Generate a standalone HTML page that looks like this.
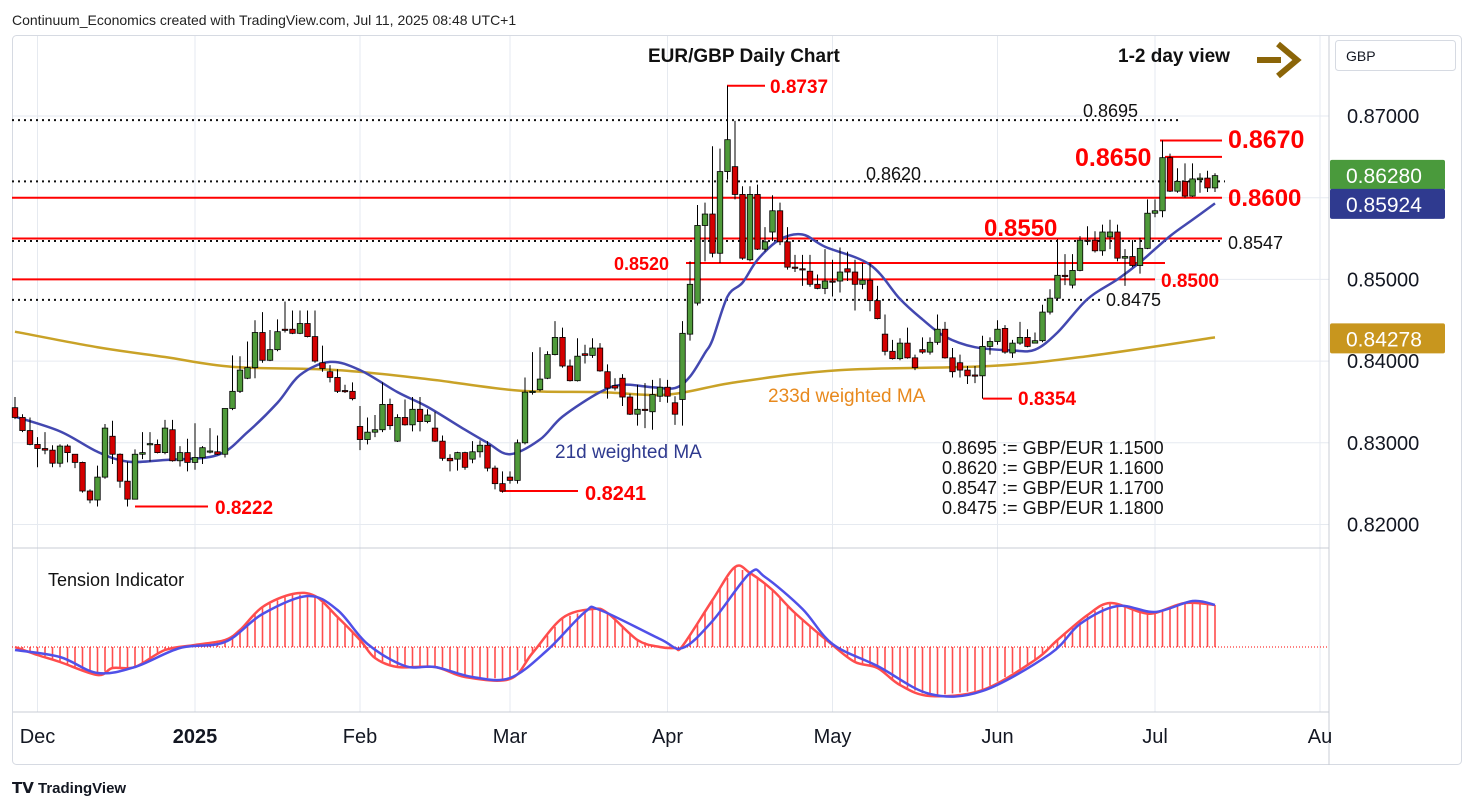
<!DOCTYPE html>
<html><head><meta charset="utf-8"><style>
html,body{margin:0;padding:0;background:#fff;}
svg{display:block;font-family:"Liberation Sans",sans-serif;}
</style></head><body>
<svg id="chart" width="1474" height="809" viewBox="0 0 1474 809" xmlns="http://www.w3.org/2000/svg">
<text x="12" y="25" font-size="14" fill="#222">Continuum_Economics created with TradingView.com, Jul 11, 2025 08:48 UTC+1</text>
<rect x="12.5" y="35.5" width="1449" height="729" rx="4" fill="#fff" stroke="#d6dae2"/>
<g id="grid"></g>
<g id="levels"></g>
<g id="mas"></g>
<g id="candles"></g>
<g id="tension"></g>
<g id="axes"></g>
<g id="annot"></g>
<text x="12" y="793" font-size="15" font-weight="bold" fill="#131722">𝗧𝗩 TradingView</text>
</svg>
<script>
// ---- data (prices x1000) ----
const openK=[834.3,833.1,831.5,829.8,829.3,829.1,827.5,829.6,828.6,827.6,
824.1,823.0,825.8,830.8,828.6,825.3,823.1,828.6,829.8,829.8,
828.8,831.6,827.8,828.8,827.6,828.2,828.9,828.9,828.6,834.2,
836.3,837.9,839.2,843.5,840.1,841.4,843.9,843.9,843.4,844.6,
843.0,839.8,838.7,838.0,836.4,836.3,832.0,830.4,831.3,831.6,
834.7,830.2,833.1,832.2,834.1,832.6,831.8,830.2,828.1,828.0,
828.8,828.0,828.9,829.7,826.9,825.0,825.8,825.4,830.0,836.2,
836.5,837.9,840.8,842.9,839.4,837.6,840.9,840.7,841.6,838.7,
837.0,837.9,835.6,833.5,834.1,833.8,835.7,836.8,834.9,835.3,
843.3,847.1,856.6,858.0,853.2,863.2,863.8,860.4,852.4,860.4,
853.7,855.8,858.4,854.6,851.5,851.3,851.0,849.4,848.9,849.8,
849.8,851.3,850.9,849.4,849.9,847.4,843.3,841.2,840.3,842.2,
840.4,841.4,841.1,842.3,843.9,840.4,839.8,838.9,838.3,838.2,
841.8,842.4,844.0,841.0,842.2,842.9,842.2,842.5,846.0,847.7,
850.5,849.3,851.1,854.8,854.8,853.5,855.2,855.8,852.6,852.8,
851.7,853.8,858.1,858.4,864.9,860.8,862.0,860.2,862.2,862.4,
861.2];
const highK=[835.6,833.5,833.1,830.7,831.3,829.7,829.8,829.8,828.6,827.7,
824.3,827.2,832.3,832.7,828.7,827.7,829.2,831.3,831.3,830.4,
832.8,832.8,829.6,830.5,832.4,829.6,831.8,830.9,834.2,840.7,
840.6,842.4,845.0,846.0,843.8,845.1,847.3,846.2,846.2,846.2,
846.2,841.9,839.5,839.0,837.1,837.4,834.5,833.1,833.4,837.4,
835.4,833.5,835.3,835.6,835.6,834.1,833.8,830.9,828.6,828.9,
828.9,830.2,830.3,830.2,827.2,826.5,826.5,830.4,838.0,841.1,
841.7,841.2,844.9,844.1,840.2,842.8,842.0,842.8,842.2,839.6,
837.9,838.4,836.0,837.1,837.3,837.7,837.9,837.7,835.7,844.9,
852.2,859.1,859.4,866.3,866.0,873.7,869.4,861.4,861.4,861.6,
856.4,860.3,859.4,856.4,853.0,853.0,853.0,850.6,853.7,852.4,
853.9,853.4,852.4,852.0,852.0,849.2,845.7,842.6,842.8,844.1,
840.8,842.9,842.9,845.7,844.8,841.6,840.8,839.4,839.4,843.1,
842.9,845.0,844.4,842.6,844.8,843.9,843.5,846.9,848.8,854.9,
853.1,853.1,855.3,856.5,855.9,856.7,857.3,856.7,853.7,854.8,
855.1,859.8,859.8,867.0,865.4,863.6,864.2,864.2,863.0,863.3,
863.0];
const lowK=[832.9,831.3,829.7,827.0,828.6,827.0,827.0,827.6,826.9,823.9,
822.6,822.2,825.6,827.4,824.5,822.2,823.1,828.0,827.7,828.7,
828.6,827.7,827.1,826.5,826.7,827.4,828.7,828.5,828.2,834.0,
836.1,837.8,837.9,839.8,840.0,841.2,843.5,843.3,843.3,842.9,
839.8,838.7,837.4,836.1,836.1,835.2,829.1,829.8,830.7,831.3,
831.6,830.1,832.1,831.4,831.4,832.4,830.1,827.8,826.5,826.6,
826.7,827.5,828.2,826.5,824.3,823.9,825.0,825.0,829.8,835.9,
836.3,837.8,840.7,839.2,837.5,837.5,839.7,840.4,838.7,835.4,
836.4,834.5,833.4,832.1,831.8,831.6,835.0,834.9,832.2,832.1,
842.5,846.8,852.2,852.7,852.0,862.2,859.8,852.4,852.2,853.6,
853.4,854.7,854.2,851.2,850.9,849.2,849.1,848.8,848.2,847.9,
848.4,849.8,846.2,848.8,846.1,845.1,840.7,840.2,840.1,840.3,
838.9,840.9,840.8,842.0,840.3,838.0,838.0,837.2,837.3,835.4,
840.8,842.0,840.9,840.4,842.0,841.7,842.2,842.3,845.7,847.4,
849.3,848.9,851.0,854.2,853.3,852.9,853.7,852.2,849.2,851.5,
850.7,853.7,857.6,857.6,860.7,860.6,860.0,860.1,860.6,860.7,
860.7];
const closeK=[833.1,831.5,829.8,829.3,829.1,827.5,829.6,828.8,827.6,824.1,
823.0,825.8,831.8,828.6,825.3,823.1,828.6,828.8,829.9,828.8,
831.8,827.8,828.8,827.6,828.2,829.4,829.0,828.6,834.2,836.3,
838.9,839.2,843.5,840.1,841.4,843.6,843.8,843.4,844.6,843.0,
840.0,839.1,838.0,836.3,836.3,835.4,830.4,831.3,831.6,834.7,
832.1,833.1,832.2,834.1,832.6,833.4,830.2,828.1,827.8,828.8,
827.0,828.9,829.7,826.9,825.0,824.1,825.4,830.0,836.2,836.3,
837.8,840.8,842.9,839.4,837.6,840.6,840.7,841.6,838.8,836.7,
836.7,835.6,833.5,834.1,834.0,835.9,836.8,835.7,833.5,843.4,
849.4,856.6,858.0,853.2,863.2,867.1,860.4,852.6,860.4,853.7,
854.6,858.4,854.6,851.5,851.4,851.2,849.4,848.9,849.8,849.7,
850.9,850.9,849.4,849.9,847.4,845.2,841.2,840.3,842.2,840.4,
839.2,841.1,842.3,843.9,840.4,838.7,838.9,838.2,838.2,841.8,
842.4,843.9,841.1,842.2,842.9,841.8,842.5,846.0,847.7,850.5,
850.4,851.1,854.8,854.7,853.5,855.8,855.8,852.6,852.8,851.7,
853.8,858.1,858.4,864.9,860.8,862.0,860.2,862.3,862.4,861.2,
862.7];
const ma21Idx=[0,6,11,15,20,27,31,35,38,42,46,51,55,60,63,66,70,73,78,81,85,88,90,92,93,95,97,99,102,105,108,114,118,121,124,128,133,136,139,143,147,150,154,157,160];
const ma21Val=[833.2,831.4,828.9,827.7,827.9,828.5,831.3,834.9,838.3,839.9,838.9,836.2,834.4,831.6,830.0,828.6,830.4,833.2,836.2,837.1,836.8,836.7,838.1,841.0,842.6,847.9,849.6,852.4,854.9,855.5,854.0,851.8,847.6,845.1,843.0,841.7,841.3,841.4,843.5,847.6,850.0,852.1,855.3,857.3,859.3];
const ma233Idx=[0,11,20,29,43,55,67,78,87,96,110,130,143,160];
const ma233Val=[843.6,841.7,840.5,839.3,838.9,837.8,836.4,836.2,835.9,837.4,838.9,839.4,840.6,842.9];
const tenRIdx=[0,3,6,11,13,16,20,24,28,30,33,37,40,43,46,48,51,56,60,66,69,73,77,79,83,86,88,89,93,96,98,101,104,109,112,115,118,122,129,136,139,143,146,150,152,156,160];
const tenRVal=[0,-0.4,-0.75,-1.4,-1.05,-1.0,-0.15,0.1,0.35,0.85,2.0,2.65,2.55,1.5,0.35,-0.55,-1.0,-1.0,-1.5,-1.6,-0.3,1.45,1.9,1.7,0.35,0,-0.05,0.05,2.35,4.0,3.7,2.85,1.7,0.1,-0.75,-1.05,-1.9,-2.45,-2.15,-0.65,0.35,1.6,2.2,1.75,1.7,2.2,2.1];
const tenBIdx=[0,6,11,16,22,28,33,39,43,47,52,56,61,66,71,76,78,86,89,93,98,100,105,109,115,122,129,138,142,147,152,157,160];
const tenBVal=[-0.15,-0.5,-1.3,-1.0,-0.05,0.25,1.65,2.55,1.85,0.15,-0.95,-1.0,-1.5,-1.55,-0.15,1.75,1.85,0.4,-0.05,1.3,3.7,3.5,1.9,0.15,-0.95,-2.35,-2.2,-0.35,1.15,2.05,1.75,2.3,2.1];
const priceTicks=[0.87,0.85,0.84,0.83,0.82];
const monthLabels=["Dec","2025","Feb","Mar","Apr","May","Jun","Jul","Au"];
const monthIdx=[3,24,46,66,87,109,131,152,174];

// ---- scales ----
const NS="http://www.w3.org/2000/svg";
const xI=i=>15+7.5*i;
const yP=p=>116+(0.87-p)*8170;
const yK=k=>yP(k/1000);
const yT=v=>647-v*20;
function mk(parent,tag,attrs){const e=document.createElementNS(NS,tag);for(const k in attrs)e.setAttribute(k,attrs[k]);parent.appendChild(e);return e;}
const G=id=>document.getElementById(id);
function smooth(pts){let d='M'+pts[0][0]+' '+pts[0][1];for(let i=0;i<pts.length-1;i++){const p0=pts[i-1]||pts[i],p1=pts[i],p2=pts[i+1],p3=pts[i+2]||p2;
const c1x=p1[0]+(p2[0]-p0[0])/6,c1y=p1[1]+(p2[1]-p0[1])/6,c2x=p2[0]-(p3[0]-p1[0])/6,c2y=p2[1]-(p3[1]-p1[1])/6;
d+=' C'+c1x+' '+c1y+' '+c2x+' '+c2y+' '+p2[0]+' '+p2[1];}return d;}

// grid
const grid=G('grid');
monthIdx.forEach(i=>{const l=mk(grid,'line',{x1:xI(i),x2:xI(i),y1:36,y2:712,stroke:'#e6eaf0','stroke-width':1});

});
[0.87,0.86,0.85,0.84,0.83,0.82].forEach(p=>{const l=mk(grid,'line',{x1:13,x2:1329,y1:yP(p),y2:yP(p),stroke:'#e6eaf0','stroke-width':1});

});

// levels
const lv=G('levels');
function hl(p,x1,x2,col,dash,w,name){const l=mk(lv,'line',{x1:x1,x2:x2,y1:yP(p),y2:yP(p),stroke:col,'stroke-width':w});if(dash)l.setAttribute('stroke-dasharray',dash);

}
hl(0.8695,12,1180,'#111','2 4',2,'level-0.8695');
hl(0.8620,12,1225,'#111','2 4',2,'level-0.8620');
hl(0.8547,12,1222,'#111','2 4',2,'level-0.8547');
hl(0.8475,12,1100,'#111','2 4',2,'level-0.8475');
hl(0.8600,12,1222,'#f00',null,2,'level-0.8600');
hl(0.8550,12,1222,'#f00',null,2,'level-0.8550');
hl(0.8520,686,1165,'#f00',null,2,'level-0.8520');
hl(0.8500,12,1155,'#f00',null,2,'level-0.8500');
hl(0.8650,1165,1222,'#f00',null,2,'level-0.8650');
hl(0.8670,1160,1222,'#f00',null,2,'level-0.8670');
hl(0.8737,727,765,'#f00',null,2,'level-0.8737');
hl(0.8354,983,1012,'#f00',null,2,'level-0.8354');
hl(0.8241,500,578,'#f00',null,2,'level-0.8241');
hl(0.8222,135,208,'#f00',null,2,'level-0.8222');

// moving averages
const mas=G('mas');
const p233=mk(mas,'path',{d:smooth(ma233Idx.map((i,k)=>[xI(i),yK(ma233Val[k])])),fill:'none',stroke:'#c9a227','stroke-width':2.5});


const p21=mk(mas,'path',{d:smooth(ma21Idx.map((i,k)=>[xI(i),yK(ma21Val[k])])),fill:'none',stroke:'#4348b0','stroke-width':2.5});



// candles
const cg=G('candles');
closeK.forEach((c,i)=>{const o=openK[i],x=xI(i);
const w=mk(cg,'line',{x1:x,x2:x,y1:yK(highK[i]),y2:yK(lowK[i]),stroke:'#000','stroke-width':1});


const top=yK(Math.max(o,c)),bot=yK(Math.min(o,c));
const b=mk(cg,'rect',{x:x-2.75,y:top,width:5.5,height:Math.max(1.2,bot-top),fill:c>=o?'#4f9a3a':'#d40000',stroke:'#000','stroke-width':0.8});

});

// tension
const tg=G('tension');
function interp(idx,val,i){if(i<=idx[0])return val[0];for(let k=1;k<idx.length;k++){if(i<=idx[k]){const t=(i-idx[k-1])/(idx[k]-idx[k-1]);return val[k-1]+t*(val[k]-val[k-1]);}}return val[val.length-1];}
for(let i=0;i<=160;i++){const v=interp(tenRIdx,tenRVal,i);
const h=mk(tg,'line',{x1:xI(i),x2:xI(i),y1:yT(0),y2:yT(v),stroke:'#ff4d4d','stroke-width':1.6});

}
const bl=mk(tg,'line',{x1:12,x2:1329,y1:yT(0),y2:yT(0),stroke:'#f00','stroke-width':1,'stroke-dasharray':'1 2'});


const tr=mk(tg,'path',{d:smooth(tenRIdx.map((i,k)=>[xI(i),yT(tenRVal[k])])),fill:'none',stroke:'#ff4d4d','stroke-width':2.5});


const tb=mk(tg,'path',{d:smooth(tenBIdx.map((i,k)=>[xI(i),yT(tenBVal[k])])),fill:'none',stroke:'#5050e8','stroke-width':2.5});



// axes
const ax=G('axes');
[[1329,36,1329,765],[13,548,1329,548],[13,712,1329,712]].forEach(a=>{const l=mk(ax,'line',{x1:a[0],y1:a[1],x2:a[2],y2:a[3],stroke:'#c8ccd4','stroke-width':1});

});
priceTicks.forEach(p=>{const t=mk(ax,'text',{x:1347,y:yP(p)+7,'font-size':20,fill:'#131722'});t.textContent=p.toFixed(5);

});
monthLabels.forEach((m,k)=>{const t=mk(ax,'text',{x:xI(monthIdx[k]),y:743,'font-size':20,fill:'#131722','text-anchor':'middle','font-weight':m==='2025'?'bold':'normal'});t.textContent=m;

});
function badge(p,txt,col,name){const y=yP(p);const r=mk(ax,'rect',{x:1330,y:y-15,width:115,height:30,rx:2,fill:col});


const t=mk(ax,'text',{x:1346,y:y+8,'font-size':21,fill:'#fff'});t.textContent=txt;

}
badge(0.8628,'0.86280','#4a9a3c','last-price-badge');
badge(0.85924,'0.85924','#2f3a8f','ma21-badge');
badge(0.84278,'0.84278','#c8961e','ma233-badge');
const cb=mk(ax,'rect',{x:1335.5,y:40.5,width:120,height:30,rx:3,fill:'#fff',stroke:'#d6dae2'});


const ct=mk(ax,'text',{x:1346,y:61,'font-size':14,fill:'#131722'});ct.textContent='GBP';



// annotations
const an=G('annot');
function tx(x,y,s,size,col,bold,name){const t=mk(an,'text',{x:x,y:y,'font-size':size,fill:col,'font-weight':bold?'bold':'normal'});t.textContent=s;

}
tx(648,62,'EUR/GBP Daily Chart',19,'#111',true,'chart-title');
tx(1118,62,'1-2 day view',19,'#111',true,'view-label');
tx(770,93,'0.8737',19,'#f00',true,'label-0.8737');
tx(1083,117,'0.8695',18,'#111',false,'label-0.8695');
tx(866,180,'0.8620',18,'#111',false,'label-0.8620');
tx(1075,166,'0.8650',25,'#f00',true,'label-0.8650');
tx(1228,148,'0.8670',25,'#f00',true,'label-0.8670');
tx(1228,206,'0.8600',24,'#f00',true,'label-0.8600');
tx(984,236,'0.8550',24,'#f00',true,'label-0.8550');
tx(1228,249,'0.8547',18,'#111',false,'label-0.8547');
tx(614,270,'0.8520',18,'#f00',true,'label-0.8520');
tx(1161,287,'0.8500',19,'#f00',true,'label-0.8500');
tx(1106,306,'0.8475',18,'#111',false,'label-0.8475');
tx(1018,405,'0.8354',19,'#f00',true,'label-0.8354');
tx(585,500,'0.8241',20,'#f00',true,'label-0.8241');
tx(215,514,'0.8222',19,'#f00',true,'label-0.8222');
tx(768,402,'233d weighted MA',19,'#e8891d',false,'ma233-label');
tx(555,458,'21d weighted MA',19,'#2f3a8f',false,'ma21-label');
['0.8695 := GBP/EUR 1.1500','0.8620 := GBP/EUR 1.1600','0.8547 := GBP/EUR 1.1700','0.8475 := GBP/EUR 1.1800'].forEach((s,k)=>tx(942,454+k*20,s,18,'#111',false,'conversion-note'));
tx(48,586,'Tension Indicator',18,'#111',false,'tension-title');
const ar=mk(an,'path',{d:'M1257 60 H1281',stroke:'#8b6508','stroke-width':6,fill:'none'});


const ah=mk(an,'path',{d:'M1278 44 L1297 60 L1278 76',stroke:'#8b6508','stroke-width':6,fill:'none','stroke-linejoin':'miter'});


</script>
</body></html>
